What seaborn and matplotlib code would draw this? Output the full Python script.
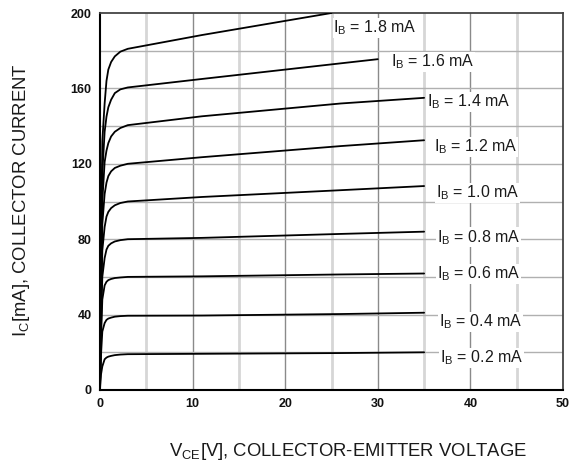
import matplotlib
matplotlib.use("Agg")
import matplotlib.pyplot as plt
import seaborn as sns
import pandas as pd
from matplotlib.ticker import MultipleLocator

sns.set_style("white")
plt.rcParams['font.family'] = ['Liberation Sans', 'DejaVu Sans']
plt.rcParams['mathtext.default'] = 'regular'

# base current of each curve (mA) and its label
ib_values = [1.8, 1.6, 1.4, 1.2, 1.0, 0.8, 0.6, 0.4, 0.2]

# collector-emitter voltage points (V), per curve
vce_18 = [0, 0.05, 0.1, 0.25, 0.5, 0.7, 0.9, 1.2, 1.6, 2.2, 3, 11, 25]
vce_16 = [0, 0.05, 0.1, 0.25, 0.5, 0.7, 0.9, 1.2, 1.6, 2.2, 3, 11, 26, 30]
vce_std = [0, 0.05, 0.1, 0.25, 0.5, 0.7, 0.9, 1.2, 1.6, 2.2, 3, 11, 26, 35]

# collector current (mA)
ic_18 = [0, 40, 75, 132, 152, 164, 170, 174, 177, 179.5, 181, 188.3, 200]
ic_16 = [0, 35, 62, 115, 137, 145, 150, 154, 157.5, 159.5, 160.5, 165, 173.3, 175.5]
ic_14 = [0, 30, 54, 100, 121, 127, 131, 134.5, 137, 139, 140.5, 145.2, 152, 155]
ic_12 = [0, 26, 46, 88, 104, 110, 113.5, 116, 117.8, 119, 120, 123.5, 129.4, 132.5]
ic_10 = [0, 22, 39, 74, 86.5, 92, 94.5, 96.5, 98, 99.2, 100, 102.4, 106, 108.2]
ic_08 = [0, 18, 32, 60, 70, 74.5, 76.5, 77.8, 78.8, 79.5, 80, 80.7, 82.8, 84]
ic_06 = [0, 14, 26, 48, 55.5, 57.4, 58.3, 58.9, 59.4, 59.7, 60, 60.3, 61.3, 61.8]
ic_04 = [0, 10, 18, 31, 35.5, 37.2, 37.9, 38.4, 38.9, 39.2, 39.4, 39.5, 40.3, 41]
ic_02 = [0, 5, 8, 12.5, 16.3, 17.2, 17.7, 18.1, 18.5, 18.8, 19, 19.2, 19.6, 20]

# label anchor points (V, mA)
label_v = [25.2, 31.4, 35.3, 36.1, 36.3, 36.4, 36.4, 36.6, 36.7]
label_i = [192, 174, 153, 129, 104.5, 81, 61.5, 36, 17]

vce_lists = [vce_18, vce_16] + [vce_std] * 7
ic_lists = [ic_18, ic_16, ic_14, ic_12, ic_10, ic_08, ic_06, ic_04, ic_02]

frames = []
for ib, v, i in zip(ib_values, vce_lists, ic_lists):
    frames.append(pd.DataFrame({'VCE': v, 'IC': i, 'IB': f'{ib:.1f}'}))
df = pd.concat(frames, ignore_index=True)

fig = plt.figure(figsize=(5.71, 4.67), dpi=100)
ax = fig.add_axes([100 / 571, 77 / 467, 463 / 571, 377 / 467])

# grid: light lines at odd 5 V, darker at 10 V, horizontal every 20 mA
for x in [5, 15, 25, 35, 45]:
    ax.axvline(x, color='#d6d6d6', lw=2.0, zorder=0)
for x in [10, 20, 30, 40]:
    ax.axvline(x, color='#8a8a8a', lw=1.0, zorder=0)
for y in range(20, 200, 20):
    ax.axhline(y, color='#b0b0b0', lw=1.0, zorder=0)

sns.lineplot(data=df, x='VCE', y='IC', hue='IB', sort=False, estimator=None,
             palette=['black'] * len(ib_values), legend=False, lw=1.3, ax=ax, zorder=3)

for ib, lv, li in zip(ib_values, label_v, label_i):
    ax.text(lv, li, f'I$_B$ = {ib:.1f} mA', fontsize=11.5, color='#1a1a1a',
            ha='left', va='center', zorder=4,
            bbox=dict(facecolor='white', edgecolor='none', pad=0.5))

ax.set_xlim(0, 50)
ax.set_ylim(0, 200)
ax.xaxis.set_major_locator(MultipleLocator(10))
ax.yaxis.set_major_locator(MultipleLocator(40))
ax.tick_params(axis='both', labelsize=9, length=0, pad=6, labelcolor='#111111')
for lbl in ax.get_xticklabels() + ax.get_yticklabels():
    lbl.set_fontweight('bold')
ax.set_xlabel('')
ax.set_ylabel('')

for side in ['left', 'bottom']:
    ax.spines[side].set_color('black')
    ax.spines[side].set_linewidth(1.5)
for side in ['top', 'right']:
    ax.spines[side].set_color('#444444')
    ax.spines[side].set_linewidth(1.3)

fig.text(348 / 571, 15 / 467, 'V$_{CE}$[V], COLLECTOR-EMITTER VOLTAGE',
         fontsize=13.3, ha='center', va='center', color='#1a1a1a')
fig.text(22 / 571, 267 / 467, 'I$_C$[mA], COLLECTOR CURRENT',
         fontsize=13.3, ha='center', va='center', rotation=90, color='#1a1a1a')

fig.savefig('out.png', dpi=100)
